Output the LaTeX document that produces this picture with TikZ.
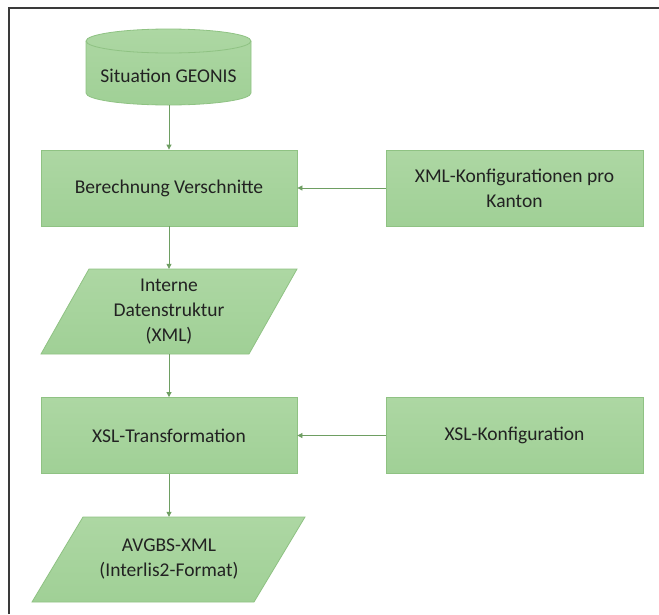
\documentclass[tikz,border=0pt]{standalone}
\usepackage{fontspec}
\setmainfont{Carlito}
\usetikzlibrary{arrows.meta}
\definecolor{topg}{HTML}{ADD7A3}
\definecolor{botg}{HTML}{A0D096}
\definecolor{edgeg}{HTML}{8FC283}
\definecolor{lineg}{HTML}{6E9E62}
\definecolor{txt}{HTML}{222222}
\definecolor{frame}{HTML}{3A3A3A}
\tikzset{
  boxnode/.style={rectangle, draw=edgeg, line width=0.8pt, top color=topg, bottom color=botg,
    minimum width=256pt, minimum height=76pt, align=center, text=txt, inner sep=0pt,
    font=\fontsize{19.5}{25}\selectfont},
  ghost/.style={rectangle, draw=none, align=center, text=txt, inner sep=0pt,
    font=\fontsize{19.5}{25}\selectfont},
  shapefill/.style={draw=edgeg, line width=0.8pt, top color=topg, bottom color=botg},
  conn/.style={draw=lineg, line width=0.8pt, -{Triangle[length=5pt,width=5pt]}}
}
\begin{document}
\begin{tikzpicture}[x=1pt,y=1pt]
\useasboundingbox (0,0) rectangle (659,-614);
% frame
\draw[frame, line width=1.3pt] (9,-614) -- (9,-8) -- (659,-8);
% cylinder
\path[shapefill] (86,-41) -- (86,-93) arc[start angle=180,end angle=360,x radius=82.5,y radius=12]
  -- (251,-41) arc[start angle=0,end angle=180,x radius=82.5,y radius=12] -- cycle;
\draw[edgeg, line width=0.8pt] (86,-41) arc[start angle=180,end angle=360,x radius=82.5,y radius=12];
\node[ghost, minimum width=165pt, minimum height=76pt] (cyl) at (169,-67) {};
\node[ghost] at (168.5,-76) {Situation GEONIS};
% boxes
\node[boxnode] (b1) at (169,-188) {Berechnung Verschnitte};
\node[boxnode, minimum width=257pt] (b2) at (514.5,-188) {XML-Konfigurationen pro\\Kanton};
\node[boxnode] (b3) at (169,-435.5) {XSL-Transformation};
\node[boxnode, minimum width=257pt] (b4) at (514.5,-435.5) {XSL-Konfiguration};
% parallelogram 1
\path[shapefill] (41,-354) -- (89,-269) -- (297,-269) -- (249,-354) -- cycle;
\node[ghost, minimum width=256pt, minimum height=85pt] (p1) at (169,-311.5) {Interne\\Datenstruktur\\(XML)};
% parallelogram 2
\path[shapefill] (32,-602) -- (83,-517) -- (305,-517) -- (254,-602) -- cycle;
\node[ghost, minimum width=274pt, minimum height=85pt] (p2) at (169,-559.5) {AVGBS-XML\\(Interlis2-Format)};
% connectors
\draw[conn] (cyl.south) -- (b1.north);
\draw[conn] (b1.south) -- (p1.north);
\draw[conn] (p1.south) -- (b3.north);
\draw[conn] (b3.south) -- (p2.north);
\draw[conn] (b2.west) -- (b1.east);
\draw[conn] (b4.west) -- (b3.east);
\end{tikzpicture}
\end{document}
